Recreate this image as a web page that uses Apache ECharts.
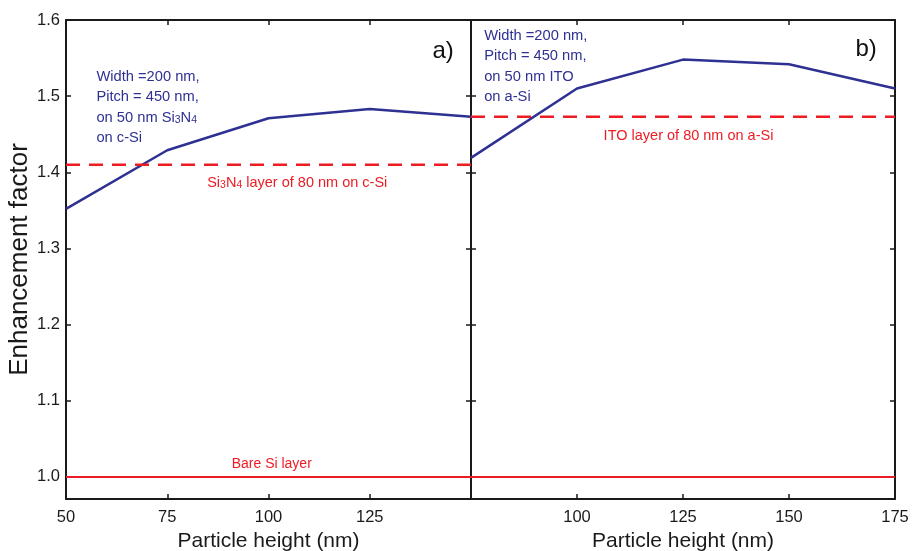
<!DOCTYPE html>
<html>
<head>
<meta charset="utf-8">
<script src="https://cdn.jsdelivr.net/npm/echarts@6/dist/echarts.min.js"></script>
<style>
html,body{margin:0;padding:0;background:#fff;}
#c{width:912px;height:551px;}
</style>
</head>
<body>
<div id="c"></div>
<script>
// ---- data ----
const xLeft = [50, 75, 100, 125, 150];
const yLeft = [1.352, 1.429, 1.471, 1.483, 1.473];
const xRight = [75, 100, 125, 150, 175];
const yRight = [1.419, 1.510, 1.548, 1.542, 1.510];
const refLeft = 1.41;      // Si3N4 layer of 80 nm on c-Si
const refRight = 1.473;    // ITO layer of 80 nm on a-Si
const bareSi = 1.0;        // Bare Si layer
const xLeftRange = [50, 150];
const xRightRange = [75, 175];
const yTicks = [1.0, 1.1, 1.2, 1.3, 1.4, 1.5, 1.6];
const yRange = [0.971, 1.6];

const FONT = 'Liberation Sans';
const BLUE = '#2e3192';
const RED = '#ec1c24';
const INK = '#1a1a1a';

const chart = echarts.init(document.getElementById('c'));

function xAx(gi, pos, range, showMin, showMax, labels) {
  return {
    type: 'value', gridIndex: gi, position: pos,
    min: range[0], max: range[1], interval: 25,
    axisLine: { show: true, onZero: false, lineStyle: { color: INK, width: 2 } },
    axisTick: { show: true, inside: true, length: 5, lineStyle: { color: INK, width: 1.5 } },
    axisLabel: labels ? {
      show: true, color: INK, fontFamily: FONT, fontSize: 16.5, margin: 10,
      showMinLabel: showMin, showMaxLabel: showMax
    } : { show: false },
    splitLine: { show: false },
    name: labels ? 'Particle height (nm)' : '',
    nameLocation: 'middle', nameGap: 32,
    nameTextStyle: { color: INK, fontFamily: FONT, fontSize: 21 }
  };
}
function yAx(gi, pos, labels, name) {
  return {
    type: 'value', gridIndex: gi, position: pos,
    min: yRange[0], max: yRange[1],
    axisLine: { show: true, onZero: false, lineStyle: { color: INK, width: 2 } },
    axisTick: { show: true, inside: true, length: 5, customValues: yTicks, lineStyle: { color: INK, width: 1.5 } },
    axisLabel: labels ? {
      show: true, color: INK, fontFamily: FONT, fontSize: 16.5, margin: 6,
      customValues: yTicks, formatter: v => v.toFixed(1)
    } : { show: false },
    splitLine: { show: false },
    name: name || '',
    nameLocation: 'middle', nameGap: 21, nameRotate: 90,
    nameTextStyle: { color: INK, fontFamily: FONT, fontSize: 26 }
  };
}

function textPoint(coord, text, color, size, align, vAlign, rich) {
  return {
    coord: coord, symbol: 'circle', symbolSize: 0.1,
    itemStyle: { color: 'transparent' },
    label: {
      show: true, position: 'inside', formatter: text,
      color: color, fontFamily: FONT, fontSize: size, lineHeight: 20.5,
      align: align, verticalAlign: vAlign, rich: rich || {}
    }
  };
}
const subRich = {
  n: { color: BLUE, fontFamily: FONT, fontSize: 14.7 },
  s: { color: BLUE, fontFamily: FONT, fontSize: 10.5, padding: [4, 0, 0, 0] }
};
const subRichRed = {
  n: { color: RED, fontFamily: FONT, fontSize: 14.5 },
  s: { color: RED, fontFamily: FONT, fontSize: 10.5, padding: [4, 0, 0, 0] }
};

const option = {
  animation: false,
  backgroundColor: '#fff',
  grid: [
    { left: 66, top: 20, width: 405, height: 479, outerBoundsMode: 'none', containLabel: false },
    { left: 471, top: 20, width: 424, height: 479, outerBoundsMode: 'none', containLabel: false }
  ],
  xAxis: [
    xAx(0, 'bottom', xLeftRange, true, false, true),
    xAx(0, 'top', xLeftRange, true, true, false),
    xAx(1, 'bottom', xRightRange, false, true, true),
    xAx(1, 'top', xRightRange, true, true, false)
  ],
  yAxis: [
    yAx(0, 'left', true, 'Enhancement factor'),
    yAx(0, 'right', false),
    yAx(1, 'left', false),
    yAx(1, 'right', false)
  ],
  series: [
    {
      type: 'line', xAxisIndex: 0, yAxisIndex: 0, symbol: 'none',
      data: xLeft.map((x, i) => [x, yLeft[i]]),
      lineStyle: { color: BLUE, width: 2.5 },
      markPoint: {
        silent: true,
        data: [
          textPoint([57.5, 1.539],
            '{n|Width =200 nm,}\n{n|Pitch = 450 nm,}\n{n|on 50 nm Si}{s|3}{n|N}{s|4}\n{n|on c-Si}',
            BLUE, 14.7, 'left', 'top', subRich),
          textPoint([143.1, 1.559], 'a)', '#111', 24, 'center', 'middle')
        ]
      }
    },
    {
      type: 'line', xAxisIndex: 0, yAxisIndex: 0, symbol: 'none',
      data: xLeftRange.map(x => [x, refLeft]),
      lineStyle: { color: RED, width: 2.5, type: [14, 9] },
      markPoint: {
        silent: true,
        data: [
          textPoint([107.1, 1.386],
            '{n|Si}{s|3}{n|N}{s|4}{n| layer of 80 nm on c-Si}',
            RED, 14.5, 'center', 'middle', subRichRed)
        ]
      }
    },
    {
      type: 'line', xAxisIndex: 0, yAxisIndex: 0, symbol: 'none',
      data: xLeftRange.map(x => [x, bareSi]),
      lineStyle: { color: RED, width: 2 },
      markPoint: {
        silent: true,
        data: [textPoint([100.8, 1.0174], 'Bare Si layer', RED, 14, 'center', 'middle')]
      }
    },
    {
      type: 'line', xAxisIndex: 2, yAxisIndex: 2, symbol: 'none',
      data: xRight.map((x, i) => [x, yRight[i]]),
      lineStyle: { color: BLUE, width: 2.5 },
      markPoint: {
        silent: true,
        data: [
          textPoint([78.1, 1.593],
            'Width =200 nm,\nPitch = 450 nm,\non 50 nm ITO\non a-Si',
            BLUE, 14.7, 'left', 'top'),
          textPoint([168.2, 1.561], 'b)', '#111', 24, 'center', 'middle')
        ]
      }
    },
    {
      type: 'line', xAxisIndex: 2, yAxisIndex: 2, symbol: 'none',
      data: xRightRange.map(x => [x, refRight]),
      lineStyle: { color: RED, width: 2.5, type: [14, 9] },
      markPoint: {
        silent: true,
        data: [textPoint([126.3, 1.448], 'ITO layer of 80 nm on a-Si', RED, 14.5, 'center', 'middle')]
      }
    },
    {
      type: 'line', xAxisIndex: 2, yAxisIndex: 2, symbol: 'none',
      data: xRightRange.map(x => [x, bareSi]),
      lineStyle: { color: RED, width: 2 }
    }
  ]
};
chart.setOption(option);
</script>
</body>
</html>
